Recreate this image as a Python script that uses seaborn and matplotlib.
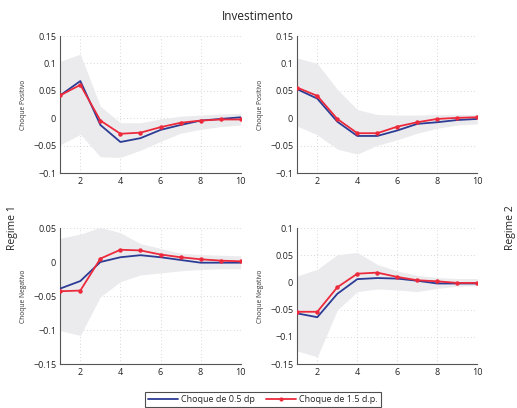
import numpy as np
import pandas as pd
import matplotlib
matplotlib.use("Agg")
import matplotlib.pyplot as plt
import seaborn as sns

sns.set_style("white")
plt.rcParams["font.family"] = ["Open Sans", "DejaVu Sans"]
plt.rcParams["axes.unicode_minus"] = True

horizon = list(range(1, 11))

# Regime 1, positive shock
r1_pos_05 = [0.042, 0.068, -0.012, -0.043, -0.036, -0.021, -0.012, -0.004, -0.001, 0.002]
r1_pos_15 = [0.042, 0.061, -0.004, -0.028, -0.026, -0.016, -0.008, -0.004, -0.002, -0.002]
r1_pos_hi = [0.104, 0.117, 0.022, -0.008, -0.008, -0.001, 0.004, 0.006, 0.008, 0.009]
r1_pos_lo = [-0.048, -0.029, -0.070, -0.071, -0.058, -0.042, -0.027, -0.020, -0.015, -0.012]

# Regime 2, positive shock
r2_pos_05 = [0.053, 0.036, -0.006, -0.032, -0.032, -0.022, -0.010, -0.007, -0.003, -0.001]
r2_pos_15 = [0.056, 0.041, -0.001, -0.027, -0.027, -0.015, -0.007, -0.001, 0.001, 0.002]
r2_pos_hi = [0.110, 0.100, 0.053, 0.016, 0.007, 0.006, 0.006, 0.007, 0.007, 0.007]
r2_pos_lo = [-0.014, -0.030, -0.056, -0.065, -0.049, -0.039, -0.027, -0.018, -0.012, -0.010]

# Regime 1, negative shock
r1_neg_05 = [-0.039, -0.028, 0.000, 0.007, 0.010, 0.007, 0.003, -0.001, -0.001, -0.001]
r1_neg_15 = [-0.043, -0.042, 0.005, 0.018, 0.017, 0.011, 0.007, 0.004, 0.002, 0.001]
r1_neg_hi = [0.035, 0.041, 0.051, 0.043, 0.027, 0.020, 0.013, 0.011, 0.010, 0.009]
r1_neg_lo = [-0.101, -0.108, -0.051, -0.029, -0.019, -0.016, -0.013, -0.011, -0.010, -0.010]

# Regime 2, negative shock
r2_neg_05 = [-0.057, -0.064, -0.021, 0.006, 0.008, 0.007, 0.003, -0.002, -0.002, -0.002]
r2_neg_15 = [-0.054, -0.054, -0.009, 0.016, 0.018, 0.010, 0.004, 0.002, -0.001, -0.001]
r2_neg_hi = [0.012, 0.024, 0.051, 0.055, 0.033, 0.021, 0.013, 0.009, 0.007, 0.007]
r2_neg_lo = [-0.126, -0.137, -0.051, -0.017, -0.012, -0.014, -0.017, -0.011, -0.007, -0.006]

BLUE = "#2c3b94"
RED = "#ec2a3c"
BAND = "#ebebee"
AXIS = "#555555"

W, H = 517, 408
fig = plt.figure(figsize=(W / 100, H / 100), dpi=100)


def px_axes(x0, x1, y0, y1):
    return fig.add_axes([x0 / W, 1 - y1 / H, (x1 - x0) / W, (y1 - y0) / H])


panels = [
    (px_axes(60.3, 240.7, 36, 173.3), r1_pos_05, r1_pos_15, r1_pos_hi, r1_pos_lo,
     (-0.1, 0.15), [-0.1, -0.05, 0, 0.05, 0.1, 0.15], "Choque Positivo"),
    (px_axes(297.3, 477.3, 36, 173.3), r2_pos_05, r2_pos_15, r2_pos_hi, r2_pos_lo,
     (-0.1, 0.15), [-0.1, -0.05, 0, 0.05, 0.1, 0.15], "Choque Positivo"),
    (px_axes(60.3, 240.7, 228, 364), r1_neg_05, r1_neg_15, r1_neg_hi, r1_neg_lo,
     (-0.15, 0.05), [-0.15, -0.1, -0.05, 0, 0.05], "Choque Negativo"),
    (px_axes(297.3, 477.3, 228, 364), r2_neg_05, r2_neg_15, r2_neg_hi, r2_neg_lo,
     (-0.15, 0.1), [-0.15, -0.1, -0.05, 0, 0.05, 0.1], "Choque Negativo"),
]


def fmt(v):
    if abs(v) < 1e-12:
        return "0"
    s = f"{v:.2f}".rstrip("0").rstrip(".")
    return s.replace("-", "\u2212")


for ax, s05, s15, hi, lo, ylim, yticks, ylab in panels:
    ax.fill_between(horizon, lo, hi, color=BAND, linewidth=0, zorder=1)
    df = pd.DataFrame({"h": horizon, "a": s05, "b": s15})
    sns.lineplot(data=df, x="h", y="a", ax=ax, color=BLUE, linewidth=1.3, zorder=3)
    sns.lineplot(data=df, x="h", y="b", ax=ax, color=RED, linewidth=1.3,
                 marker="o", markersize=3.2, markeredgewidth=0, zorder=4)
    ax.set_xlim(1, 10)
    ax.set_ylim(*ylim)
    ax.set_xticks([2, 4, 6, 8, 10])
    ax.set_yticks(yticks)
    ax.set_yticklabels([fmt(v) for v in yticks])
    ax.grid(True, linestyle=(0, (0.8, 3.2)), color="#bdbdbd", linewidth=0.6, zorder=0)
    ax.set_axisbelow(True)
    for side in ("top", "right"):
        ax.spines[side].set_visible(False)
    for side in ("left", "bottom"):
        ax.spines[side].set_color(AXIS)
        ax.spines[side].set_linewidth(0.8)
    ax.tick_params(direction="in", length=2.5, width=0.6, color=AXIS,
                   labelsize=6.5, labelcolor="#222222", pad=3)
    ax.set_xlabel("")
    ax.set_ylabel(ylab, fontsize=4.8, color="#333333")
    ax.yaxis.set_label_coords(-0.185, 0.5)

fig.text(258 / W, 1 - 16 / H, "Investimento", ha="center", va="center",
         fontsize=8.5, color="#222222")
fig.text(13 / W, 1 - 228 / H, "Regime 1", rotation=90, ha="center", va="center",
         fontsize=7.5, color="#222222")
fig.text(510.5 / W, 1 - 228 / H, "Regime 2", rotation=90, ha="center", va="center",
         fontsize=7.5, color="#222222")

handles = [
    plt.Line2D([], [], color=BLUE, linewidth=1.3),
    plt.Line2D([], [], color=RED, linewidth=1.3, marker="o", markersize=3,
               markeredgewidth=0),
]
leg = fig.legend(handles, ["Choque de 0.5 dp", "Choque de 1.5 d.p."],
                 loc="center", bbox_to_anchor=(263 / W, 1 - 399.5 / H), ncol=2,
                 fontsize=6.5, frameon=True, fancybox=False, handlelength=3.3,
                 columnspacing=1.2, handletextpad=0.35, borderpad=0.35,
                 borderaxespad=0)
leg.get_frame().set_edgecolor("#222222")
leg.get_frame().set_linewidth(0.8)

fig.savefig("out.png", dpi=100)
